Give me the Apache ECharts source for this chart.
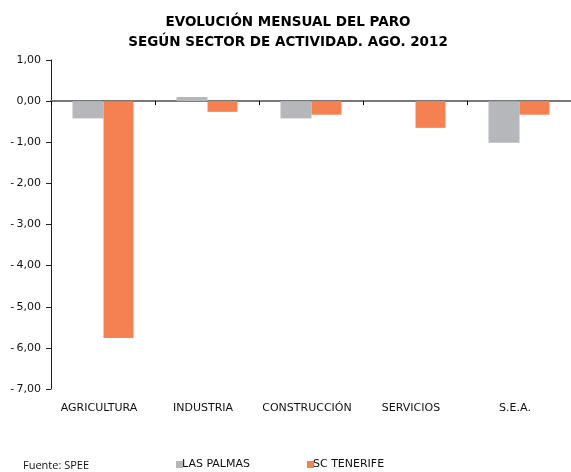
<!DOCTYPE html>
<html>
<head>
<meta charset="utf-8">
<script src="https://cdn.jsdelivr.net/npm/echarts@6/dist/echarts.min.js"></script>
<style>
  html, body { margin: 0; padding: 0; background: #fff; }
  #chart { width: 571px; height: 472px; }
</style>
</head>
<body>
<div id="chart"></div>
<script>
// sectores
var categories = ['AGRICULTURA', 'INDUSTRIA', 'CONSTRUCCIÓN', 'SERVICIOS', 'S.E.A.']
// variación mensual (%)
var lasPalmas = [-0.42, 0.10, -0.42, 0.00, -1.01]
var scTenerife = [-5.76, -0.26, -0.33, -0.65, -0.33]
var seriesNames = ['LAS PALMAS', 'SC TENERIFE']

var myChart = echarts.init(document.getElementById('chart'))

var labelFont = '"DejaVu Sans", Verdana, sans-serif'

var option = {
  animation: false,
  title: {
    text: 'EVOLUCIÓN MENSUAL DEL PARO\nSEGÚN SECTOR DE ACTIVIDAD. AGO. 2012',
    left: 283,
    textAlign: 'center',
    top: 7,
    textStyle: {
      fontFamily: '"DejaVu Sans", Verdana, sans-serif',
      fontWeight: 'bold',
      fontSize: 13.5,
      lineHeight: 20,
      color: '#000'
    }
  },
  legend: {
    data: seriesNames,
    left: 176,
    top: 459,
    padding: 0,
    icon: 'rect',
    itemWidth: 7,
    itemHeight: 7,
    itemGap: 57,
    textStyle: {
      fontFamily: labelFont,
      fontSize: 11,
      color: '#111',
      padding: [0, 0, 0, -6]
    }
  },
  graphic: [
    {
      type: 'text',
      left: 23,
      top: 460,
      style: {
        text: 'Fuente: SPEE',
        font: '11px "Open Sans", sans-serif',
        fill: '#111'
      }
    }
  ],
  grid: {
    left: 51,
    right: -2,
    top: 60,
    bottom: 83
  },
  xAxis: [
    {
      // etiquetas abajo
      type: 'category',
      data: categories,
      position: 'bottom',
      axisLine: { show: false, onZero: false },
      axisTick: { show: false },
      axisLabel: {
        interval: 0,
        fontFamily: labelFont,
        fontSize: 11,
        color: '#111',
        margin: 14,
        padding: [0, 8, 0, 0]
      }
    },
    {
      // línea del cero
      type: 'category',
      data: categories,
      position: 'bottom',
      axisLine: {
        onZero: true,
        lineStyle: { color: '#777', width: 2 }
      },
      axisTick: {
        show: true,
        interval: 0,
        length: 4,
        lineStyle: { color: '#000', width: 1 }
      },
      axisLabel: { show: false }
    }
  ],
  yAxis: {
    type: 'value',
    min: -7,
    max: 1,
    interval: 1,
    axisLine: { show: true, lineStyle: { color: '#222', width: 1 } },
    axisTick: { show: true, length: 5, lineStyle: { color: '#222' } },
    splitLine: { show: false },
    axisLabel: {
      fontFamily: labelFont,
      fontSize: 11,
      color: '#111',
      margin: 10,
      formatter: function (v) {
        var s = Math.abs(v).toFixed(2).replace('.', ',')
        return v < 0 ? '-\u2009' + s : s
      }
    }
  },
  series: [
    {
      name: seriesNames[0],
      type: 'bar',
      xAxisIndex: 0,
      data: lasPalmas,
      barWidth: 31,
      barGap: '0%',
      itemStyle: { color: '#b6b7ba' }
    },
    {
      name: seriesNames[1],
      type: 'bar',
      xAxisIndex: 0,
      data: scTenerife,
      barWidth: 30,
      barGap: '0%',
      itemStyle: { color: '#f58153' }
    }
  ]
}

myChart.setOption(option)
</script>
</body>
</html>
